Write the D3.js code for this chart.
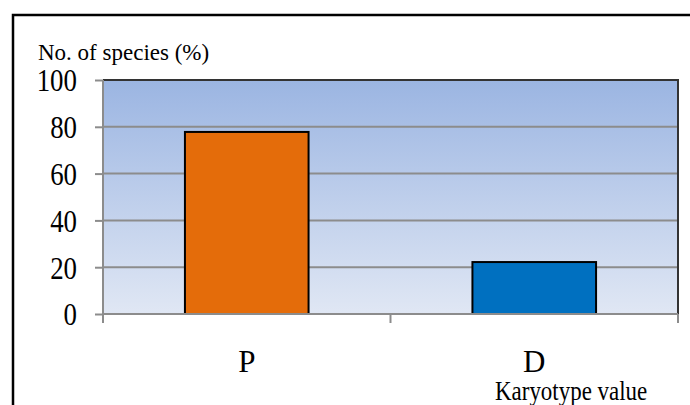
<!DOCTYPE html>
<html>
<head>
<meta charset="utf-8">
<script src="https://cdn.jsdelivr.net/npm/d3@7"></script>
<style>
html,body{margin:0;padding:0;background:#fff;}
svg{display:block;}
</style>
</head>
<body>
<svg id="chart" width="690" height="405"></svg>
<script>
const categories = ["P", "D"];
const values = [77.8, 22.2];
const barColors = ["#e46c0a", "#0070c0"];
const yTicks = [0, 20, 40, 60, 80, 100];
const yTitle = "No. of species (%)";
const xTitle = "Karyotype value";

const SERIF = "'Liberation Serif', 'DejaVu Serif', 'Times New Roman', serif";
const svg = d3.select("#chart").style("font-family", SERIF);
const L = 103, R = 678, T = 80, B = 314;

// outer frame
svg.append("rect").attr("x", 13).attr("y", 15).attr("width", 720).attr("height", 450)
  .attr("fill", "none").attr("stroke", "#000").attr("stroke-width", 2.5);

const defs = svg.append("defs");
const grad = defs.append("linearGradient").attr("id", "bg").attr("x1", 0).attr("y1", 0).attr("x2", 0).attr("y2", 1);
grad.append("stop").attr("offset", "0%").attr("stop-color", "#9bb5e2");
grad.append("stop").attr("offset", "100%").attr("stop-color", "#e0e7f4");

const x = d3.scaleBand().domain(categories).range([L, R]).paddingInner(0.57).paddingOuter(0.285);
const y = d3.scaleLinear().domain([0, 100]).range([B, T]);

svg.append("rect").attr("x", L).attr("y", T).attr("width", R - L).attr("height", B - T).attr("fill", "url(#bg)");

// gridlines
svg.append("g").selectAll("line").data(yTicks.filter(d => d > 0 && d < 100)).join("line")
  .attr("x1", L).attr("x2", R).attr("y1", d => y(d)).attr("y2", d => y(d))
  .attr("stroke", "#8c8c8c").attr("stroke-width", 2);

// top & right border
svg.append("line").attr("x1", L).attr("x2", R + 1).attr("y1", y(100)).attr("y2", y(100)).attr("stroke", "#333").attr("stroke-width", 2);
svg.append("line").attr("x1", R).attr("x2", R).attr("y1", T).attr("y2", B).attr("stroke", "#333").attr("stroke-width", 2);

// bars
svg.append("g").selectAll("rect").data(categories).join("rect")
  .attr("x", d => x(d)).attr("width", x.bandwidth())
  .attr("y", (d, i) => y(values[i])).attr("height", (d, i) => y(0) - y(values[i]))
  .attr("fill", (d, i) => barColors[i]).attr("stroke", "#000").attr("stroke-width", 2);

// y axis
const yAxis = d3.axisLeft(y).tickValues(yTicks).tickSize(8).tickPadding(14).tickFormat(d3.format("d"));
const ga = svg.append("g").attr("transform", `translate(${L},0)`).call(yAxis)
  .attr("font-family", null).attr("font-size", null);
ga.select(".domain").attr("stroke", "#8c8c8c").attr("stroke-width", 2).attr("d", `M0,${T}V${B + 9}`);
ga.selectAll(".tick line").attr("stroke", "#8c8c8c").attr("stroke-width", 2);
ga.selectAll(".tick text").style("font-family", SERIF).style("font-size", "32px")
  .attr("fill", "#000").attr("dy", "0.34em")
  .attr("transform", "scale(0.84,1)").attr("x", -26 / 0.84);

// x axis line & ticks
svg.append("line").attr("x1", L).attr("x2", R).attr("y1", B).attr("y2", B).attr("stroke", "#8c8c8c").attr("stroke-width", 2);
const xt = [L, (L + R) / 2, R];
svg.append("g").selectAll("line").data(xt).join("line")
  .attr("x1", d => d).attr("x2", d => d).attr("y1", B).attr("y2", B + 9)
  .attr("stroke", "#8c8c8c").attr("stroke-width", 2);

// category labels
svg.append("g").selectAll("text").data(categories).join("text")
  .attr("x", d => x(d) + x.bandwidth() / 2).attr("y", 372)
  .attr("text-anchor", "middle").style("font-family", SERIF).style("font-size", "31px").text(d => d);

// titles
svg.append("text").attr("x", 38).attr("y", 60).style("font-family", SERIF).style("font-size", "23px").text(yTitle);
svg.append("text").attr("transform", "translate(495,400) scale(0.85,1)").style("font-family", SERIF).style("font-size", "27px").text(xTitle);
</script>
</body>
</html>
